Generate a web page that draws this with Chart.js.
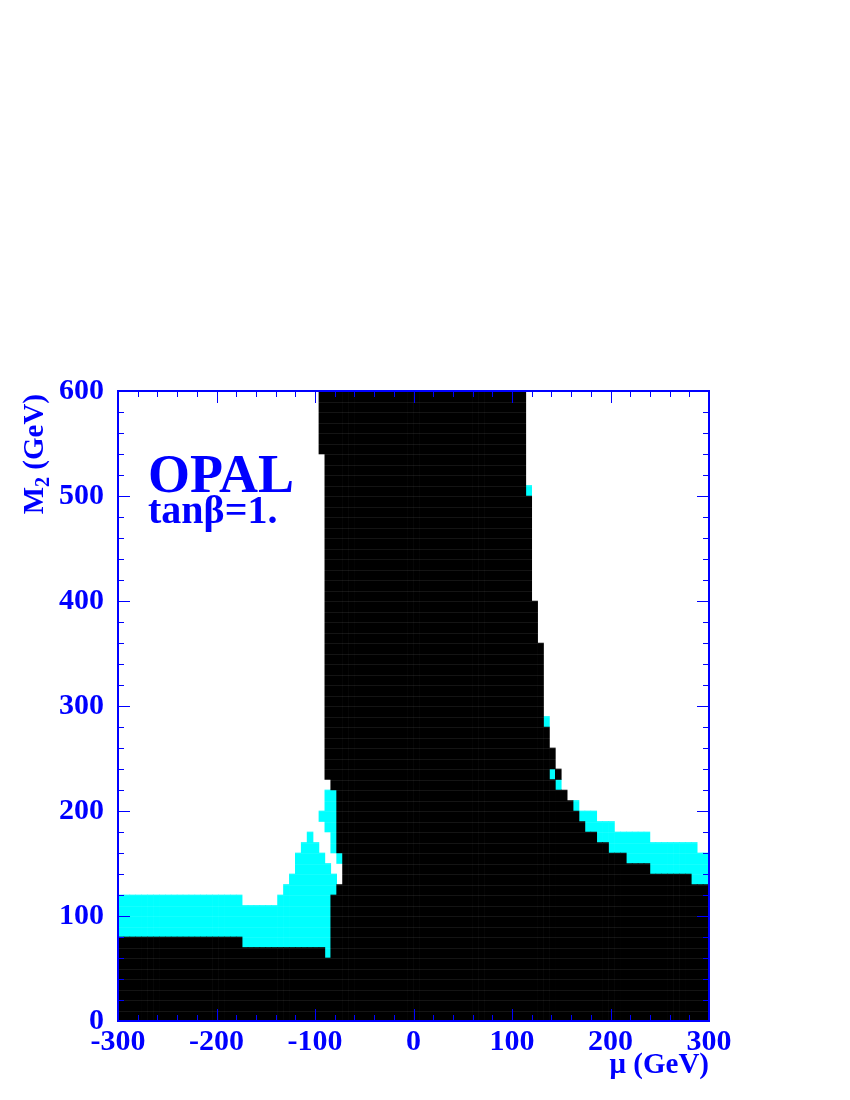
<!DOCTYPE html>
<html>
<head>
<meta charset="utf-8">
<script src="https://cdn.jsdelivr.net/npm/chart.js@4.4.1/dist/chart.umd.min.js"></script>
<style>
  html, body { margin: 0; padding: 0; background: #fff; }
</style>
</head>
<body>
<canvas id="canvas1" width="850" height="1100"></canvas>
<script>
// centres of the 6 GeV wide mu columns (GeV)
const muBins = [
  -297, -291, -285, -279, -273, -267, -261, -255, -249, -243,
  -237, -231, -225, -219, -213, -207, -201, -195, -189, -183,
  -177, -171, -165, -159, -153, -147, -141, -135, -129, -123,
  -117, -111, -105, -99, -93, -87, -81, -75, -69, -63,
  -57, -51, -45, -39, -33, -27, -21, -15, -9, -3,
  3, 9, 15, 21, 27, 33, 39, 45, 51, 57,
  63, 69, 75, 81, 87, 93, 99, 105, 111, 117,
  123, 129, 135, 141, 147, 153, 159, 165, 171, 177,
  183, 189, 195, 201, 207, 213, 219, 225, 231, 237,
  243, 249, 255, 261, 267, 273, 279, 285, 291, 297
];

// black (excluded) region, column from M2 = 0 up to this value
const blackTop = [
  80, 80, 80, 80, 80, 80, 80, 80, 80, 80,
  80, 80, 80, 80, 80, 80, 80, 80, 80, 80,
  80, 70, 70, 70, 70, 70, 70, 70, 70, 70,
  70, 70, 70, 70, 70, 60, 120, 130, 600, 600,
  600, 600, 600, 600, 600, 600, 600, 600, 600, 600,
  600, 600, 600, 600, 600, 600, 600, 600, 600, 600,
  600, 600, 600, 600, 600, 600, 600, 600, 600, 500,
  400, 360, 280, 230, 220, 220, 210, 200, 190, 180,
  180, 170, 170, 160, 160, 160, 150, 150, 150, 150,
  140, 140, 140, 140, 140, 140, 140, 130, 130, 130
];

// cyan region, lower and upper edge per column (null = none)
const cyanLow = [
  80, 80, 80, 80, 80, 80, 80, 80, 80, 80,
  80, 80, 80, 80, 80, 80, 80, 80, 80, 80,
  80, 70, 70, 70, 70, 70, 70, 70, 70, 70,
  70, 70, 70, 70, 70, 60, 120, 150, null, null,
  null, null, null, null, null, null, null, null, null, null,
  null, null, null, null, null, null, null, null, null, null,
  null, null, null, null, null, null, null, null, null, 500,
  null, null, 280, 230, 220, null, null, 200, 190, 180,
  180, 170, 170, 160, 160, 160, 150, 150, 150, 150,
  140, 140, 140, 140, 140, 140, 140, 130, 130, 130
];
const cyanHigh = [
  120, 120, 120, 120, 120, 120, 120, 120, 120, 120,
  120, 120, 120, 120, 120, 120, 120, 120, 120, 120,
  120, 110, 110, 110, 110, 110, 110, 120, 130, 140,
  160, 170, 180, 170, 160, 150, 140, 160, null, null,
  null, null, null, null, null, null, null, null, null, null,
  null, null, null, null, null, null, null, null, null, null,
  null, null, null, null, null, null, null, null, null, 510,
  null, null, 290, 240, 230, null, null, 210, 200, 200,
  200, 190, 190, 190, 180, 180, 180, 180, 180, 180,
  170, 170, 170, 170, 170, 170, 170, 170, 160, 160
];

// extra pieces on the edges of the black band
const blackExtraMu = [-93, -87, -81, -75, 141, 147];
const blackExtraLow = [540, 230, 220, 160, 240, 230];
const blackExtraHigh = [600, 600, 600, 600, 260, 240];

const cyanExtraMu = [-93, -87, -81];
const cyanExtraLow = [190, 180, 160];
const cyanExtraHigh = [200, 220, 220];

const muTicks = [-300, -200, -100, 0, 100, 200, 300];
const m2Ticks = [0, 100, 200, 300, 400, 500, 600];

const BLUE = '#0000ff';
const SERIF = '"Liberation Serif", "Times New Roman", serif';

function columns(lows, highs) {
  const out = [];
  muBins.forEach((mu, i) => {
    if (highs[i] != null) out.push({ x: mu, y: [lows[i], highs[i]] });
  });
  return out;
}
function pieces(mus, lows, highs) {
  return mus.map((mu, i) => ({ x: mu, y: [lows[i], highs[i]] }));
}

const blackMain = columns(muBins.map(() => 0), blackTop);
const cyanMain = columns(cyanLow, cyanHigh);

// frame, inward ticks, faint cell lines and the texts
const overlay = {
  id: 'overlay',
  afterDatasetsDraw(chart) {
    const { ctx, chartArea: a, scales: { x, y } } = chart;
    ctx.save();

    ctx.save();
    ctx.beginPath();
    ctx.rect(a.left, a.top, a.right - a.left, a.bottom - a.top);
    ctx.clip();
    ctx.strokeStyle = 'rgba(255,255,255,0.08)';
    ctx.lineWidth = 1;
    ctx.beginPath();
    for (let m = 10; m < 600; m += 10) {
      const py = Math.round(y.getPixelForValue(m)) + 0.5;
      ctx.moveTo(a.left, py);
      ctx.lineTo(a.right, py);
    }
    ctx.stroke();
    ctx.restore();

    ctx.strokeStyle = BLUE;
    ctx.lineWidth = 1;
    ctx.beginPath();
    for (let v = -300; v <= 300; v += 20) {
      const px = Math.round(x.getPixelForValue(v)) + 0.5;
      const len = v % 100 === 0 ? 12 : 6;
      ctx.moveTo(px, a.bottom); ctx.lineTo(px, a.bottom - len);
      ctx.moveTo(px, a.top); ctx.lineTo(px, a.top + len);
    }
    for (let v = 0; v <= 600; v += 20) {
      const py = Math.round(y.getPixelForValue(v)) + 0.5;
      const len = v % 100 === 0 ? 12 : 6;
      ctx.moveTo(a.left, py); ctx.lineTo(a.left + len, py);
      ctx.moveTo(a.right, py); ctx.lineTo(a.right - len, py);
    }
    ctx.stroke();

    ctx.lineWidth = 2;
    ctx.strokeRect(a.left, a.top, a.right - a.left, a.bottom - a.top);

    ctx.fillStyle = BLUE;
    ctx.textBaseline = 'alphabetic';
    ctx.textAlign = 'left';
    ctx.font = 'bold 54px ' + SERIF;
    ctx.fillText('OPAL', 148, 492);
    ctx.font = 'bold 40px ' + SERIF;
    ctx.fillText('tanβ=1.', 148, 523);

    // axis titles
    ctx.font = 'bold 29px ' + SERIF;
    ctx.textAlign = 'right';
    ctx.fillText('μ (GeV)', a.right, 1073);

    ctx.translate(43, a.top + 3);
    ctx.rotate(-Math.PI / 2);
    ctx.textAlign = 'left';
    const big = 'bold 29px ' + SERIF, small = 'bold 20px ' + SERIF;
    ctx.font = big;
    const wM = ctx.measureText('M').width;
    const wRest = ctx.measureText(' (GeV)').width;
    ctx.font = small;
    const w2 = ctx.measureText('2').width;
    let cx = -(wM + w2 + wRest);
    ctx.font = big;
    ctx.fillText('M', cx, 0);
    ctx.font = small;
    ctx.fillText('2', cx + wM, 6);
    ctx.font = big;
    ctx.fillText(' (GeV)', cx + wM + w2, 0);

    ctx.restore();
  }
};

const ctx1 = document.getElementById('canvas1').getContext('2d');

const barOpts = { grouped: false, barPercentage: 1, categoryPercentage: 1, borderWidth: 0 };

const myChart1 = new Chart(ctx1, {
  type: 'bar',
  data: {
    datasets: [
      Object.assign({ label: 'excluded', data: blackMain, backgroundColor: '#000000' }, barOpts),
      Object.assign({ label: 'excluded, upper', data: pieces(blackExtraMu, blackExtraLow, blackExtraHigh), backgroundColor: '#000000' }, barOpts),
      Object.assign({ label: 'cyan', data: cyanMain, backgroundColor: '#00ffff' }, barOpts),
      Object.assign({ label: 'cyan, upper', data: pieces(cyanExtraMu, cyanExtraLow, cyanExtraHigh), backgroundColor: '#00ffff' }, barOpts)
    ]
  },
  options: {
    responsive: false,
    animation: false,
    devicePixelRatio: 1,
    layout: { padding: { top: 391, right: 141, left: 0, bottom: 0 } },
    plugins: { legend: { display: false }, tooltip: { enabled: false } },
    scales: {
      x: {
        type: 'linear',
        min: -300, max: 300,
        offset: false,
        grid: { display: false, offset: false },
        border: { display: false },
        afterBuildTicks: (s) => { s.ticks = muTicks.map(v => ({ value: v })); },
        afterFit: (s) => { s.height = 79; },
        ticks: {
          color: BLUE, padding: -5, maxRotation: 0, autoSkip: false,
          font: { family: SERIF, size: 30, weight: 'bold' }
        }
      },
      y: {
        type: 'linear',
        min: 0, max: 600,
        grid: { display: false },
        border: { display: false },
        afterBuildTicks: (s) => { s.ticks = m2Ticks.map(v => ({ value: v })); },
        afterFit: (s) => { s.width = 118; },
        ticks: {
          color: BLUE, padding: 6, autoSkip: false,
          font: { family: SERIF, size: 30, weight: 'bold' }
        }
      }
    }
  },
  plugins: [overlay]
});
</script>
</body>
</html>
